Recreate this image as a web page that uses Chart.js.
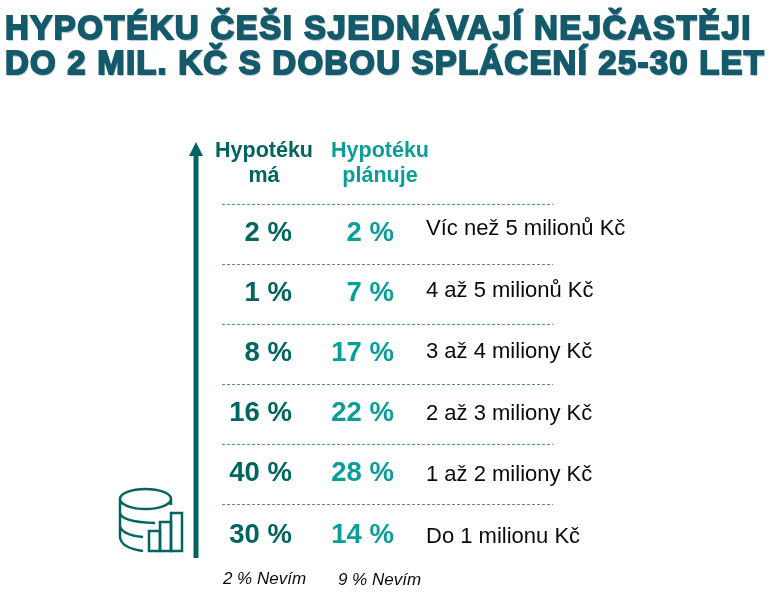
<!DOCTYPE html>
<html lang="cs">
<head>
<meta charset="utf-8">
<title>Hypotéky</title>
<script src="https://cdn.jsdelivr.net/npm/chart.js@4"></script>
<style>
  html, body { margin: 0; padding: 0; background: #fff; }
  #wrap { position: relative; width: 772px; height: 601px; overflow: hidden; }
  #wrap canvas { position: absolute; left: 0; top: 0; }
  h1 {
    position: absolute; left: 5px; top: 10px; margin: 0; z-index: 2; white-space: nowrap;
    font: bold 33px/35px "Liberation Sans", sans-serif; color: #155a6b;
    -webkit-text-stroke: 1.8px #155a6b; text-shadow: 1px 2px 0 #b9ccd3;
  }
  h1 span { display: block; }
</style>
</head>
<body>
<div id="wrap">
  <h1><span style="letter-spacing:1.45px">HYPOTÉKU ČEŠI SJEDNÁVAJÍ NEJČASTĚJI</span><span style="letter-spacing:1.2px">DO 2 MIL. KČ S DOBOU SPLÁCENÍ 25-30 LET</span></h1>
  <canvas id="chart" width="772" height="601"></canvas>
</div>
<script>
const DARK = '#00645f';
const TEAL = '#0a9e98';
const FONT = '"Liberation Sans", Arial, sans-serif';

// pos = vertical position of the values, labelPos = of the row text (rows are counted from the bottom)
const rows = [
  { label: 'Do 1 milionu Kč', has: 30, plans: 14, pos: 0.5, labelPos: 0.47 },
  { label: '1 až 2 miliony Kč', has: 40, plans: 28, pos: 1.52, labelPos: 1.5 },
  { label: '2 až 3 miliony Kč', has: 16, plans: 22, pos: 2.52, labelPos: 2.52 },
  { label: '3 až 4 miliony Kč', has: 8, plans: 17, pos: 3.53, labelPos: 3.55 },
  { label: '4 až 5 milionů Kč', has: 1, plans: 7, pos: 4.53, labelPos: 4.57 },
  { label: 'Víc než 5 milionů Kč', has: 2, plans: 2, pos: 5.53, labelPos: 5.6 },
];

// text, arrow and icon are painted on top of the empty chart frame
const tablePlugin = {
  id: 'tablePlugin',
  afterDatasetsDraw(chart) {
    const ctx = chart.ctx;
    ctx.save();
    ctx.textBaseline = 'middle';

    // percent values, placed at the (hidden) points
    [0, 1].forEach(i => {
      const ds = chart.data.datasets[i];
      ctx.font = 'bold 27.5px ' + FONT;
      ctx.fillStyle = ds.textColor;
      ctx.textAlign = 'right';
      chart.getDatasetMeta(i).data.forEach((pt, j) => {
        ctx.fillText(ds.data[j].v + ' %', pt.x, pt.y + 1);
      });
    });

    // row labels
    ctx.font = '22px ' + FONT;
    ctx.fillStyle = '#0a0a0a';
    ctx.textAlign = 'left';
    chart.getDatasetMeta(2).data.forEach((pt, j) => {
      ctx.fillText(chart.data.datasets[2].data[j].t, pt.x, pt.y + 1);
    });

    // column heads
    ctx.textAlign = 'center';
    ctx.font = 'bold 21.5px ' + FONT;
    ctx.fillStyle = DARK;
    ctx.fillText('Hypotéku', 264, 151);
    ctx.fillText('má', 264, 176);
    ctx.fillStyle = TEAL;
    ctx.fillText('Hypotéku', 380, 151);
    ctx.fillText('plánuje', 380, 176);

    // footnotes
    ctx.font = 'italic 17px ' + FONT;
    ctx.fillStyle = '#0a0a0a';
    ctx.fillText('2 % Nevím', 264.5, 579);
    ctx.fillText('9 % Nevím', 379.5, 580);

    // arrow
    ctx.fillStyle = DARK;
    ctx.fillRect(193.5, 155, 5, 403);
    ctx.beginPath();
    ctx.moveTo(196, 142);
    ctx.lineTo(203, 156);
    ctx.lineTo(189, 156);
    ctx.closePath();
    ctx.fill();

    // database icon
    ctx.strokeStyle = DARK;
    ctx.lineWidth = 2.5;
    ctx.beginPath();
    ctx.ellipse(145.5, 499, 25.5, 10, 0, 0, Math.PI * 2);
    ctx.moveTo(120, 499);
    ctx.lineTo(120, 537);
    ctx.quadraticCurveTo(121, 548, 143, 551);
    ctx.moveTo(120, 513);
    ctx.quadraticCurveTo(122, 522, 155, 523);
    ctx.moveTo(120, 526);
    ctx.quadraticCurveTo(122, 535, 143, 537);
    ctx.moveTo(171, 499);
    ctx.lineTo(171, 505);
    ctx.stroke();
    ctx.strokeRect(149, 531, 11, 20);
    ctx.strokeRect(160, 522, 11, 29);
    ctx.strokeRect(171, 513, 11, 38);
    ctx.restore();
  },
};

new Chart(document.getElementById('chart'), {
  type: 'scatter',
  data: {
    datasets: [
      { label: 'Hypotéku má', textColor: DARK, pointRadius: 0, data: rows.map(r => ({ x: 70, y: r.pos, v: r.has })) },
      { label: 'Hypotéku plánuje', textColor: TEAL, pointRadius: 0, data: rows.map(r => ({ x: 172, y: r.pos, v: r.plans })) },
      { label: 'Výše hypotéky', pointRadius: 0, data: rows.map(r => ({ x: 204, y: r.labelPos, t: r.label })) },
    ],
  },
  options: {
    responsive: false,
    animation: false,
    layout: { padding: { left: 222, right: 219, top: 204, bottom: 37 } },
    plugins: { legend: { display: false }, tooltip: { enabled: false } },
    scales: {
      x: { type: 'linear', display: false, min: 0, max: 331 },
      y: {
        type: 'linear', min: 0, max: 6,
        ticks: { display: false, stepSize: 1 },
        grid: { color: c => (c.tick.value === 0 ? 'transparent' : '#5b9199'), lineWidth: 1, drawTicks: false },
        border: { display: false, dash: [3, 2] },
      },
    },
  },
  plugins: [tablePlugin],
});
</script>
</body>
</html>
